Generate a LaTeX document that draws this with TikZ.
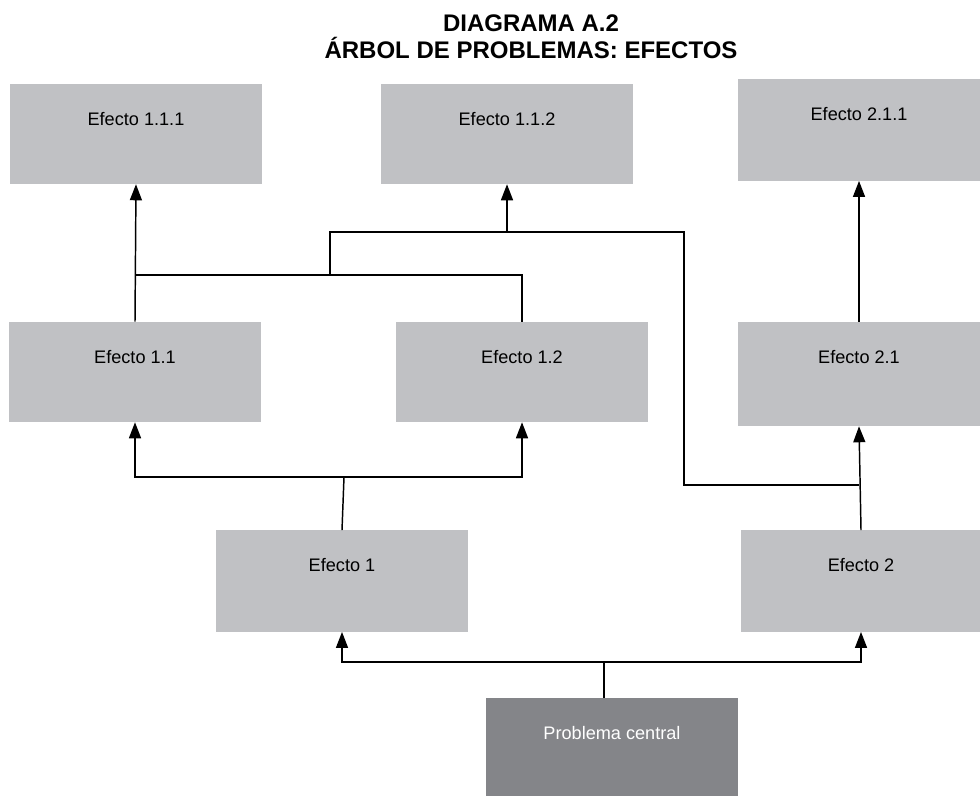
\documentclass[tikz,border=0pt]{standalone}
\usepackage{fontspec}
\setmainfont{Liberation Sans}
\usetikzlibrary{arrows.meta, calc, positioning}
\definecolor{efGrey}{HTML}{C0C1C4}
\definecolor{pcGrey}{HTML}{848589}
\tikzset{
  conn/.style     = {line width=1.1pt, black},
  arr/.style      = {conn, -{Triangle[length=12pt, width=9pt]}},
  efbox/.style    = {fill=efGrey, inner sep=0pt, minimum width=189pt,
                     text height=31pt, text depth=44pt,
                     font=\fontsize{13.6}{16}\selectfont},
  pcbox/.style    = {efbox, fill=pcGrey, text=white},
  ttl/.style      = {font=\fontsize{18}{20}\selectfont\bfseries},
}
\begin{document}
\begin{tikzpicture}[x=0.75pt,y=-0.75pt]
  \useasboundingbox (0,0) rectangle (980,795);
  % title
  \node[ttl] (t1) at (531,23) {DIAGRAMA A.2};
  \node[ttl] (t2) at (531,48) {ÁRBOL DE PROBLEMAS: EFECTOS};
  % boxes
  \node[efbox] (e111) at (136,134) {Efecto 1.1.1};
  \node[efbox] (e112) at (507,134) {Efecto 1.1.2};
  \node[efbox, minimum width=182pt, text depth=45pt] (e211) at (859,130) {Efecto 2.1.1};
  \node[efbox] (e11) at (135,372) {Efecto 1.1};
  \node[efbox] (e12) at (522,372) {Efecto 1.2};
  \node[efbox, minimum width=182pt, text depth=47pt] (e21) at (859,374) {Efecto 2.1};
  \node[efbox, text depth=45pt] (e1) at (342,581) {Efecto 1};
  \node[efbox, minimum width=180pt, text depth=45pt] (e2) at (861,581) {Efecto 2};
  \node[pcbox, text depth=45pt] (pc) at (612,749) {Problema central};
  % junctions
  \coordinate (j0) at (604,662);
  \coordinate (j1) at (344,477);
  \coordinate (k1) at (330,275);
  \coordinate (k3) at (684,232);
  \coordinate (k4) at (684,485);
  % level 1
  \draw[conn] (j0 |- pc.north) -- (j0);
  \draw[arr] (j0) -| (e1.south);
  \draw[arr] (j0) -| (e2.south);
  % level 2
  \draw[conn] (e1.north) -- (j1);
  \draw[arr] (j1) -| (e11.south);
  \draw[arr] (j1) -| (e12.south);
  \draw[arr] (e2.north) -- (e21.south);
  % level 3
  \draw[arr] (e11.north) -- (e111.south);
  \draw[conn] (e12.north) |- (e11.north |- k1);
  \draw[conn] (k1) |- (k3) |- (e21.south |- k4);
  \draw[arr] (e112.south |- k3) -- (e112.south);
  \draw[arr] (e21.north) -- (e211.south);
\end{tikzpicture}
\end{document}
